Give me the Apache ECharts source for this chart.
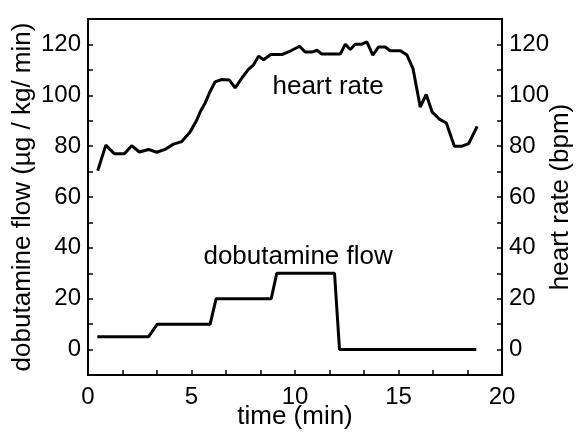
<!DOCTYPE html>
<html>
<head>
<meta charset="utf-8">
<script src="https://cdn.jsdelivr.net/npm/echarts@6/dist/echarts.min.js"></script>
<style>html,body{margin:0;padding:0;background:#fff;}#c{width:578px;height:436px;}</style>
</head>
<body>
<div id="c"></div>
<script>
// time (min), heart rate (bpm)
const hrTime = [0.47,0.86,1.27,1.76,2.11,2.48,2.92,3.32,3.72,4.13,4.53,4.93,5.25,5.42,5.66,5.9,6.14,6.46,6.83,7.11,7.45,7.75,8.0,8.24,8.48,8.83,9.36,9.8,10.22,10.49,10.82,11.06,11.3,12.19,12.43,12.67,12.91,13.23,13.47,13.76,14.04,14.36,14.6,15.09,15.41,15.7,16.05,16.34,16.62,16.99,17.31,17.7,18.07,18.39,18.8];
const hrValue = [70.3,80.4,77,77,80.2,77.7,78.7,77.6,78.7,80.8,81.8,85.6,90.2,93.5,97,101.5,105.3,106.2,106,102.9,107,110.2,112,115.4,114,116,116,117.5,119.3,117,117,117.7,116.2,116.2,120.1,118,120.1,120.1,121,115.8,119,119,117.5,117.5,115.8,110.5,95.4,100.3,93.5,90.5,89.1,80,80,81,87.8];
// time (min), dobutamine flow (µg/kg/min)
const flowTime = [0.45,2.92,3.35,5.9,6.19,8.85,9.12,11.91,12.15,18.76];
const flowValue = [5,5,10,10,20,20,30,30,0,0];
const xTicks = [0,5,10,15,20];
const yTicks = [0,20,40,60,80,100,120];

const FONT = "'Liberation Sans', Arial, sans-serif";
const hrData = hrTime.map((t,i)=>[t,hrValue[i]]);
const flowData = flowTime.map((t,i)=>[t,flowValue[i]]);

const chart = echarts.init(document.getElementById('c'), null, {renderer:'canvas'});
const axisLine = {show:true, onZero:false, lineStyle:{color:'#000', width:2}};
const yAxisBase = {
  type:'value', min:-10, max:130, interval:10,
  axisLine: axisLine,
  axisTick:{show:true, inside:true, length:5, lineStyle:{color:'#000', width:1.5}},
  splitLine:{show:false},
  axisLabel:{color:'#000', fontSize:24, fontFamily:FONT, margin:7,
    formatter:v => yTicks.indexOf(v) >= 0 ? String(v) : ''},
  nameLocation:'middle', nameMoveOverlap:false,
  nameTextStyle:{color:'#000', fontSize:26, fontFamily:FONT}
};
chart.setOption({
  animation:false,
  backgroundColor:'#fff',
  grid:{left:88, right:76, top:19, bottom:61, show:true, borderColor:'#000', borderWidth:2,
    containLabel:false, outerBoundsMode:'none'},
  xAxis:{
    type:'value', min:0, max:20, interval:5,
    axisLine: axisLine,
    axisTick:{show:true, inside:true, length:5, lineStyle:{color:'#000', width:1.5}},
    minorTick:{show:true, splitNumber:3, length:5, lineStyle:{color:'#000', width:1.5}},
    splitLine:{show:false},
    axisLabel:{color:'#000', fontSize:24, fontFamily:FONT, margin:10,
      formatter:v => xTicks.indexOf(v) >= 0 ? String(v) : ''},
    name:'time (min)', nameLocation:'middle', nameGap:29, nameMoveOverlap:false,
    nameTextStyle:{color:'#000', fontSize:26, fontFamily:FONT}
  },
  yAxis:[
    Object.assign({}, yAxisBase, {position:'left', name:'dobutamine flow (µg / kg/ min)', nameGap:52}),
    Object.assign({}, yAxisBase, {position:'right', name:'heart rate (bpm)', nameGap:46})
  ],
  series:[
    {type:'line', yAxisIndex:0, data:flowData, symbol:'none', lineStyle:{color:'#000', width:3}},
    {type:'line', yAxisIndex:1, data:hrData, symbol:'none', lineStyle:{color:'#000', width:3}}
  ]
});
const p1 = chart.convertToPixel({xAxisIndex:0, yAxisIndex:1}, [11.6, 103.2]);
const p2 = chart.convertToPixel({xAxisIndex:0, yAxisIndex:0}, [10.15, 36.3]);
chart.setOption({graphic:[
  {type:'text', x:p1[0], y:p1[1], style:{text:'heart rate', fontSize:26, fontFamily:FONT, fill:'#000', align:'center', verticalAlign:'middle'}},
  {type:'text', x:p2[0], y:p2[1], style:{text:'dobutamine flow', fontSize:26, fontFamily:FONT, fill:'#000', align:'center', verticalAlign:'middle'}}
]});
</script>
</body>
</html>
